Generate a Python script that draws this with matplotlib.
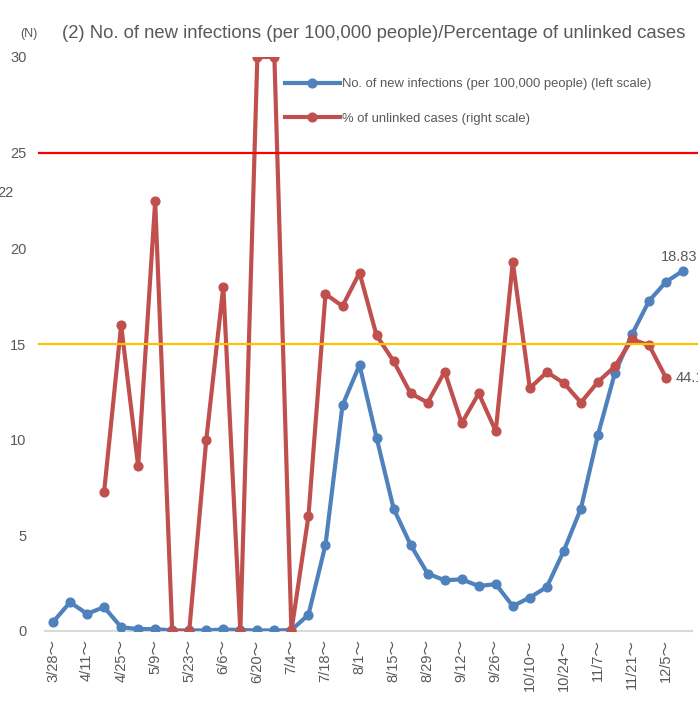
import matplotlib
matplotlib.use("Agg")
import matplotlib.pyplot as plt
import matplotlib.transforms as mtrans

plt.rcParams['font.family'] = ['Liberation Sans', 'Noto Sans CJK JP', 'DejaVu Sans']

weeks = ["3/28", "4/4", "4/11", "4/18", "4/25", "5/2", "5/9", "5/16", "5/23", "5/30",
         "6/6", "6/13", "6/20", "6/27", "7/4", "7/11", "7/18", "7/25", "8/1", "8/8",
         "8/15", "8/22", "8/29", "9/5", "9/12", "9/19", "9/26", "10/3", "10/10", "10/17",
         "10/24", "10/31", "11/7", "11/14", "11/21", "11/28", "12/5", "12/12"]

new_infections = [0.47, 1.5, 0.9, 1.25, 0.2, 0.1, 0.1, 0.03, 0.03, 0.03,
                  0.08, 0.05, 0.03, 0.03, 0.05, 0.85, 4.5, 11.8, 13.9, 10.1,
                  6.4, 4.5, 3.0, 2.65, 2.7, 2.35, 2.45, 1.3, 1.75, 2.3,
                  4.2, 6.4, 10.25, 13.5, 15.5, 17.25, 18.25, 18.83]

unlinked_pct = [None, None, None, 24.2, 53.3, 28.7, 74.9, 0, 0, 33.3,
                60.0, 0, 100, 100, 0, 20.0, 58.7, 56.6, 62.4, 51.5,
                47.0, 41.4, 39.8, 45.2, 36.2, 41.4, 34.8, 64.3, 42.3, 45.1,
                43.2, 39.8, 43.4, 46.1, 50.8, 49.8, 44.1, None]

y_ticks = [0, 5, 10, 15, 20, 25, 30]
threshold_infections = 25
threshold_mid = 15

title = "(2) No. of new infections (per 100,000 people)/Percentage of unlinked cases"
label_blue = "No. of new infections (per 100,000 people) (left scale)"
label_red = "% of unlinked cases (right scale)"

BLUE = "#4F81BD"
RED = "#C0504D"
GRAY = "#595959"

W, H = 698, 712
fig = plt.figure(figsize=(W / 100, H / 100), dpi=100)
ax = fig.add_axes([44.5 / W, 1 - 631 / H, (691.6 - 44.5) / W, (631 - 57) / H])
ax2 = ax.twinx()

x = list(range(len(weeks)))

ax.plot(x, new_infections, color=BLUE, lw=3.0, marker='o', ms=6.3, zorder=3,
        solid_joinstyle='round', label=label_blue)

xr = [i for i, v in zip(x, unlinked_pct) if v is not None]
yr = [v for v in unlinked_pct if v is not None]
ax2.plot(xr, yr, color=RED, lw=3.0, marker='o', ms=6.3, zorder=3,
         solid_joinstyle='round', label=label_red)

ax.set_xlim(-0.5, len(weeks) - 0.5)
ax.set_ylim(0, 30)
ax2.set_ylim(0, 100)

ax.set_yticks(y_ticks)
ax.set_yticklabels([str(v) for v in y_ticks])
ax.tick_params(axis='y', length=0, pad=13, labelsize=10.5, labelcolor=GRAY)
ax.set_xticks(x[::2])
ax.set_xticklabels([w + "～" for w in weeks[::2]], rotation=90)
ax.tick_params(axis='x', length=0, pad=6, labelsize=10.5, labelcolor=GRAY)

for a in (ax, ax2):
    for s in ('top', 'right', 'left'):
        a.spines[s].set_visible(False)
ax2.spines['bottom'].set_visible(False)
ax.spines['bottom'].set_color('#D9D9D9')
ax.spines['bottom'].set_linewidth(1.5)
ax2.set_yticks([])
ax2.tick_params(axis='y', length=0, labelright=False)

# threshold lines (drawn on top)
tr = mtrans.blended_transform_factory(ax2.transAxes, ax.transData)
x0 = (39 - 44.5) / (691.6 - 44.5)
x1 = (700 - 44.5) / (691.6 - 44.5)
ax2.plot([x0, x1], [threshold_infections] * 2, color='#FF0000', lw=1.6, transform=tr,
         clip_on=False, zorder=5)
ax2.plot([x0, x1], [threshold_mid] * 2, color='#FFC000', lw=1.6, transform=tr,
         clip_on=False, zorder=5)

# data labels
ax.annotate(f"{new_infections[-1]:.2f}", (x[-1], new_infections[-1]),
            xytext=(-3, 5), textcoords='offset points', ha='center', va='bottom',
            fontsize=10.5, color=GRAY, zorder=6)
ax2.annotate(f"{unlinked_pct[36]:.1f}", (x[36], unlinked_pct[36]),
             xytext=(7, 0), textcoords='offset points', ha='left', va='center',
             fontsize=10.5, color=GRAY, zorder=6, annotation_clip=False)

# title and unit
fig.text(62 / W, 1 - 33 / H, title, fontsize=13.3, color=GRAY, ha='left', va='center')
fig.text(20 / W, 1 - 34 / H, "(N)", fontsize=9, color=GRAY, ha='left', va='center')
fig.text(13 / W, 1 - 193 / H, "22", fontsize=10.5, color=GRAY, ha='right', va='center')

# legend
h1, l1 = ax.get_legend_handles_labels()
h2, l2 = ax2.get_legend_handles_labels()
leg = ax2.legend(h1 + h2, l1 + l2, loc='upper left',
                 bbox_to_anchor=(285 / W, 1 - 78 / H), bbox_transform=fig.transFigure,
                 frameon=False, fontsize=9.4, handlelength=4.2, handletextpad=0.2,
                 labelspacing=1.72, borderpad=0, borderaxespad=0)
for t in leg.get_texts():
    t.set_color(GRAY)
leg.set_zorder(10)

fig.savefig("out.png", dpi=100)
